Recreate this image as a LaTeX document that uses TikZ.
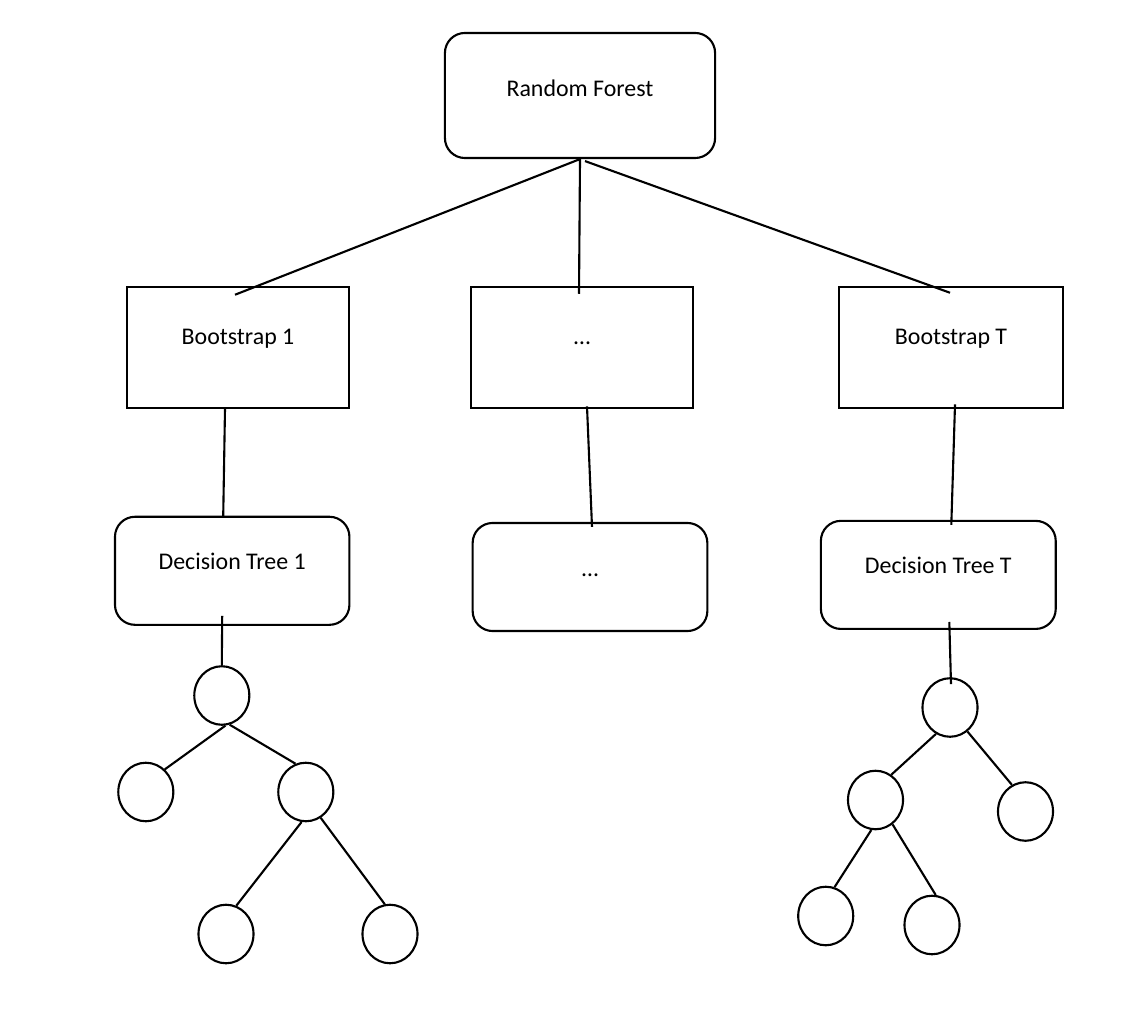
\documentclass[tikz,border=0pt]{standalone}
\usepackage{fontspec}
\setmainfont{Carlito}
\usetikzlibrary{shapes.geometric,calc}

\begin{document}
\begin{tikzpicture}[x=0.01cm,y=-0.01cm,line width=0.6pt,
  every node/.style={font=\fontsize{6.8}{8}\selectfont,inner sep=0pt},
  forestbox/.style={draw,rounded corners=0.2cm,minimum width=#1,text height=0.64cm,text depth=0.61cm},
  bootbox/.style={draw,minimum width=#1,text height=0.58cm,text depth=0.635cm},
  treebox/.style={draw,rounded corners=0.2cm,minimum width=#1,text height=0.53cm,text depth=0.55cm},
  leaf/.style={draw,ellipse,minimum width=0.55cm,minimum height=0.585cm}]

  \useasboundingbox (0,0) rectangle (1146,1022);

  \node[forestbox=2.7cm] (RF) at (580,95.5) {Random Forest};

  % BOOTSTRAPS
  \node[bootbox=2.226cm] (Boot1) at (238,347.6) {Bootstrap 1};
  \node[bootbox=2.22cm] (BootM) at (582,347.6) {…};
  \node[bootbox=2.243cm] (BootT) at (951,347.6) {Bootstrap T};

  % DECISION TREES
  \node[treebox=2.343cm] (Tree1) at (232.2,570.8) {Decision Tree 1};
  \node[treebox=2.346cm] (TreeM) at (590,577) {…};
  \node[treebox=2.347cm] (TreeT) at (938.3,574.9) {Decision Tree T};

  % tree 1
  \node[leaf] (Ta) at (221.8,695.5) {};
  \node[leaf] (Tb) at (145.8,792) {};
  \node[leaf] (Tc) at (305.8,792) {};
  \node[leaf] (Td) at (226,934) {};
  \node[leaf] (Te) at (390,934) {};

  % tree T
  \node[leaf] (Sa) at (950,707.5) {};
  \node[leaf] (Sb) at (875.5,800) {};
  \node[leaf] (Sc) at (1025.5,811.5) {};
  \node[leaf] (Sd) at (825.7,916) {};
  \node[leaf] (Se) at (932,925) {};

  \draw
    (RF.south) -- ($(Boot1.north)+(-3,9)$)
    (RF.south) -- ($(BootM.north)+(-3,8)$)
    ($(RF.south)+(5,2)$) -- ($(BootT.north)+(-1,7)$)
    ($(Boot1.south)+(-13,-1)$) -- ($(Tree1.north)+(-9,1)$)
    ($(BootM.south)+(5,-3)$) -- ($(TreeM.north)+(2,5)$)
    ($(BootT.south)+(4,-5)$) -- ($(TreeT.north)+(13,5)$)
    ;
  % leaves
  \draw
    ($(Tree1.south)+(-10,-10)$) -- (Ta.north)
    (Ta.-83) -- (Tb.50)
    (Ta.-75) -- (Tc.110)
    (Tc.-98) -- (Td.70)
    (Tc.-60) -- (Te.100)
    ($(TreeT.south)+(11,-8)$) -- ($(Sa.north)+(1,7)$)
    (Sa.-118) -- (Sb.58)
    (Sa.-54) -- (Sc.117)
    (Sb.-98) -- (Sd.73)
    (Sb.-55) -- (Se.83)
    ;
\end{tikzpicture}
\end{document}
